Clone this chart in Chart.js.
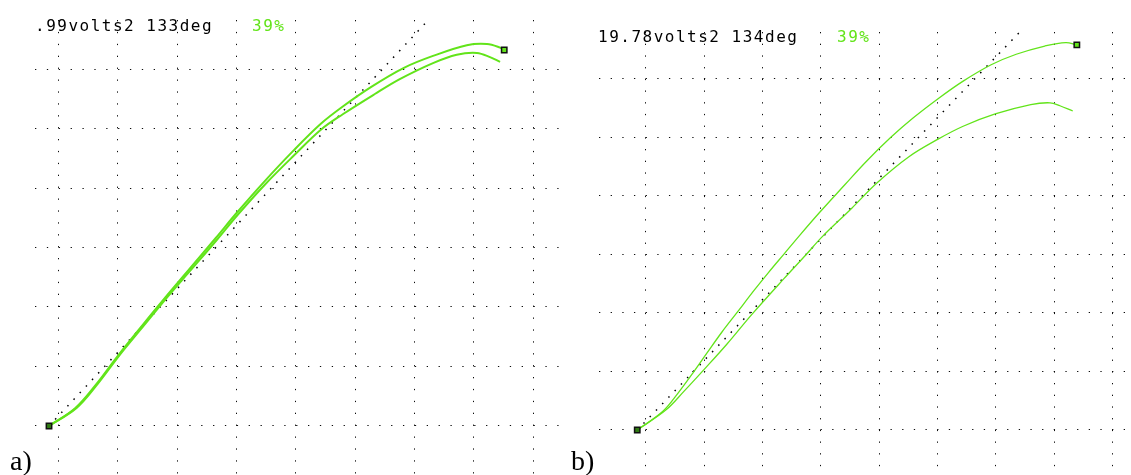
<!DOCTYPE html>
<html>
<head>
<meta charset="utf-8">
<script src="https://cdn.jsdelivr.net/npm/chart.js@4.4.1/dist/chart.umd.min.js"></script>
<style>
  html, body { margin: 0; padding: 0; background: #fff; }
  .panel { position: absolute; top: 0; height: 475px; }
</style>
</head>
<body>
<div class="panel" style="left:0px;width:565px"><canvas id="chartA" width="565" height="475"></canvas></div>
<div class="panel" style="left:565px;width:566px"><canvas id="chartB" width="566" height="475"></canvas></div>
<script>
// values are in grid divisions (one dotted square = 1)

// panel a)
var aUpperX = [-0.16, 0.28, 0.61, 1.00, 1.42, 1.80, 2.20, 2.65, 3.00, 3.46, 3.95, 4.42, 4.79, 5.27, 5.82, 6.31, 6.88, 7.22, 7.44, 7.51];
var aUpperY = [0.00, 0.30, 0.67, 1.18, 1.70, 2.16, 2.63, 3.16, 3.58, 4.10, 4.62, 5.08, 5.37, 5.70, 6.02, 6.22, 6.40, 6.42, 6.36, 6.32];
var aLowerX = [-0.16, 0.30, 0.63, 1.02, 1.44, 1.82, 2.22, 2.67, 3.02, 3.48, 3.97, 4.42, 4.79, 5.33, 5.75, 6.31, 6.71, 7.05, 7.27, 7.44];
var aLowerY = [0.00, 0.30, 0.67, 1.18, 1.69, 2.15, 2.61, 3.13, 3.55, 4.06, 4.55, 4.98, 5.24, 5.58, 5.83, 6.10, 6.24, 6.27, 6.20, 6.12];
var aMarkX = [-0.16, 7.51];
var aMarkY = [0.00, 6.32];
var aDiagX = [-0.16, 6.34];
var aDiagY = [0.00, 6.94];
var aReading = ['.99volts2 133deg', '39%'];

// panel b)
var bUpperX = [-0.15, 0.29, 0.55, 0.81, 1.05, 1.30, 1.58, 1.85, 2.10, 2.37, 2.64, 2.98, 3.41, 3.77, 4.20, 4.58, 5.01, 5.44, 5.92, 6.35, 6.84, 7.20, 7.39];
var bUpperY = [0.00, 0.32, 0.63, 0.98, 1.32, 1.67, 2.03, 2.38, 2.69, 3.01, 3.33, 3.72, 4.19, 4.58, 5.00, 5.33, 5.66, 5.96, 6.24, 6.42, 6.56, 6.62, 6.58];
var bLowerX = [-0.15, 0.34, 0.65, 1.03, 1.39, 1.82, 2.37, 2.74, 3.02, 3.53, 3.96, 4.51, 5.01, 5.44, 5.99, 6.60, 6.93, 7.10, 7.32];
var bLowerY = [0.00, 0.34, 0.66, 1.07, 1.47, 1.98, 2.59, 2.99, 3.30, 3.79, 4.22, 4.67, 4.97, 5.19, 5.40, 5.56, 5.59, 5.54, 5.45];
var bMarkX = [-0.15, 7.39];
var bMarkY = [0.00, 6.58];
var bDiagX = [-0.15, 6.45];
var bDiagY = [0.00, 6.84];
var bReading = ['19.78volts2 134deg', '39%'];

var GREEN = 'rgb(98, 228, 26)';
var DOTS = 'rgba(0, 0, 0, 0.95)';

function toPoints(xs, ys) {
  var pts = [];
  for (var i = 0; i < xs.length; i++) {
    pts.push({x: xs[i], y: ys[i]});
  }
  return pts;
}

// draws the reading line at the top and the panel letter at the bottom
function labelPlugin(cfg) {
  return {
    id: 'labels',
    afterDraw: function (chart) {
      var ctx = chart.ctx;
      ctx.save();
      ctx.textBaseline = 'alphabetic';
      ctx.textAlign = 'left';
      ctx.font = '16px "DejaVu Sans Mono"';
      ctx.letterSpacing = '1.5px';
      ctx.fillStyle = '#000';
      ctx.fillText(cfg.reading[0], cfg.textX, cfg.textY);
      ctx.fillStyle = GREEN;
      ctx.fillText(cfg.reading[1], cfg.pctX, cfg.textY);
      ctx.letterSpacing = '0px';
      ctx.font = '28px "Liberation Serif"';
      ctx.fillStyle = '#000';
      ctx.fillText(cfg.letter, cfg.letterX, cfg.letterY);
      ctx.restore();
    }
  };
}

function makeChart(id, d) {
  var ctx = document.getElementById(id);
  return new Chart(ctx, {
    type: 'scatter',
    data: {
      datasets: [
        {
          data: toPoints(d.markX, d.markY),
          pointStyle: 'rect',
          pointRadius: 3.8,
          borderWidth: 1.5,
          pointBorderColor: '#111',
          pointBackgroundColor: [ '#2f7a12', GREEN ],
          showLine: false
        },
        {
          data: toPoints(d.upperX, d.upperY),
          showLine: true,
          borderColor: GREEN,
          borderWidth: d.lineWidth,
          pointRadius: 0,
          tension: 0.35
        },
        {
          data: toPoints(d.lowerX, d.lowerY),
          showLine: true,
          borderColor: GREEN,
          borderWidth: d.lineWidth,
          pointRadius: 0,
          tension: 0.35
        },
        {
          data: toPoints(d.diagX, d.diagY),
          showLine: true,
          borderColor: '#000',
          borderWidth: 1.5,
          borderDash: [1.5, 7.5],
          pointRadius: 0
        }
      ]
    },
    options: {
      responsive: false,
      animation: false,
      devicePixelRatio: 1,
      layout: { padding: d.padding, autoPadding: false },
      plugins: {
        legend: { display: false },
        tooltip: { enabled: false }
      },
      scales: {
        x: {
          type: 'linear',
          min: d.xMin,
          max: d.xMax,
          ticks: { display: false, stepSize: 1, includeBounds: false, padding: 0 },
          grid: { color: DOTS, lineWidth: 1, drawTicks: false },
          border: { display: false, dash: [1.3, d.colGap] }
        },
        y: {
          type: 'linear',
          min: d.yMin,
          max: d.yMax,
          ticks: { display: false, stepSize: 1, includeBounds: false, padding: 0 },
          grid: { color: DOTS, lineWidth: 1, drawTicks: false },
          border: { display: false, dash: [1.3, d.rowGap] }
        }
      }
    },
    plugins: [labelPlugin(d.labels)]
  });
}

makeChart('chartA', {
  upperX: aUpperX, upperY: aUpperY, lowerX: aLowerX, lowerY: aLowerY,
  markX: aMarkX, markY: aMarkY, diagX: aDiagX, diagY: aDiagY,
  lineWidth: 2,
  padding: { left: 35, top: 20, right: 6, bottom: 0 },
  xMin: -0.396, xMax: 8.433, yMin: -0.824, yMax: 6.824,
  colGap: 10.6, rowGap: 10.57,
  labels: { reading: aReading, textX: 35, pctX: 252, textY: 31, letter: 'a)', letterX: 10, letterY: 470 }
});

makeChart('chartB', {
  upperX: bUpperX, upperY: bUpperY, lowerX: bLowerX, lowerY: bLowerY,
  markX: bMarkX, markY: bMarkY, diagX: bDiagX, diagY: bDiagY,
  lineWidth: 1.3,
  padding: { left: 34, top: 32, right: 6, bottom: 0 },
  xMin: -0.806, xMax: 8.216, yMin: -0.769, yMax: 6.80,
  colGap: 10.4, rowGap: 10.36,
  labels: { reading: bReading, textX: 33, pctX: 272, textY: 42, letter: 'b)', letterX: 6, letterY: 470 }
});
</script>
</body>
</html>
